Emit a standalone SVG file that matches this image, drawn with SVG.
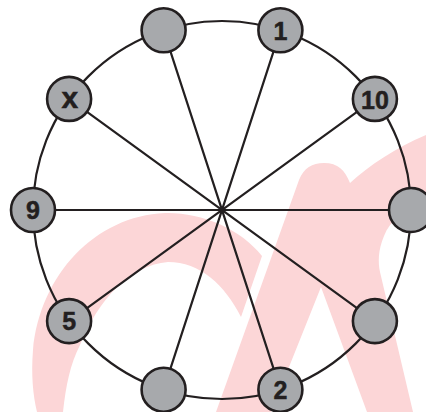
<svg xmlns="http://www.w3.org/2000/svg" width="426" height="412" viewBox="0 0 426 412">
  <style>
    .mark { fill: #fcd6d7; stroke: none; }
    .ring { fill: none; stroke: #231f20; stroke-width: 2.2; }
    .spoke { stroke: #231f20; stroke-width: 2.2; stroke-linecap: round; }
    .node circle { fill: #a7a9ac; stroke: #231f20; stroke-width: 2.6; }
    .node text { font-family: "Liberation Sans", Arial, sans-serif; font-weight: bold; font-size: 25px; fill: #231f20; stroke: #231f20; stroke-width: 0.5; text-anchor: middle; }
    .node text.lower { font-size: 30px; }
  </style>
  <rect width="426" height="412" fill="#ffffff"/>

  <!-- background watermark -->
  <g id="watermark">
    <path class="mark" d="M262,256 C240,228 200,212 165,213 C95,216 40,275 33,350 C31,375 33,395 37,412 L63,412 C66,385 70,365 80,345 C98,300 130,265 168,262 C200,262 225,285 241,317 Z"/>
    <path class="mark" d="M216,412 L299,180 C304,168 312,163 324,163 C338,163 345,170 350,183 C370,165 395,148 426,135 L426,205 C405,210 390,220 384,236 C378,250 378,262 380,272 L413,412 L367,412 L321,287 L271,412 Z"/>
  </g>

  <!-- outer circle and spokes -->
  <g id="connectors">
    <circle class="ring" cx="222" cy="210" r="189"/>
    <line class="spoke" x1="411" y1="210" x2="33" y2="210"/>
    <line class="spoke" x1="374.9" y1="98.9" x2="69.1" y2="321.1"/>
    <line class="spoke" x1="280.4" y1="30.3" x2="163.6" y2="389.7"/>
    <line class="spoke" x1="163.6" y1="30.3" x2="280.4" y2="389.7"/>
    <line class="spoke" x1="69.1" y1="98.9" x2="374.9" y2="321.1"/>
  </g>

  <!-- nodes around the circle -->
  <g id="node-right" class="node"><circle cx="411" cy="210" r="22"/></g>
  <g id="node-10" class="node"><circle cx="374.9" cy="98.9" r="22"/><text x="374.9" y="108.5">10</text></g>
  <g id="node-1" class="node"><circle cx="280.4" cy="30.3" r="22"/><text x="280.4" y="39.5">1</text></g>
  <g id="node-top" class="node"><circle cx="163.6" cy="30.3" r="22"/></g>
  <g id="node-x" class="node"><circle cx="69.1" cy="98.9" r="22"/><text class="lower" x="69.8" y="107.8">x</text></g>
  <g id="node-9" class="node"><circle cx="33" cy="210" r="22"/><text x="33" y="219.2">9</text></g>
  <g id="node-5" class="node"><circle cx="69.1" cy="321.1" r="22"/><text x="69.1" y="330.3">5</text></g>
  <g id="node-bottom" class="node"><circle cx="163.6" cy="389.7" r="22"/></g>
  <g id="node-2" class="node"><circle cx="280.4" cy="389.7" r="22"/><text x="280.4" y="398.6">2</text></g>
  <g id="node-lower-right" class="node"><circle cx="374.9" cy="321.1" r="22"/></g>
</svg>
